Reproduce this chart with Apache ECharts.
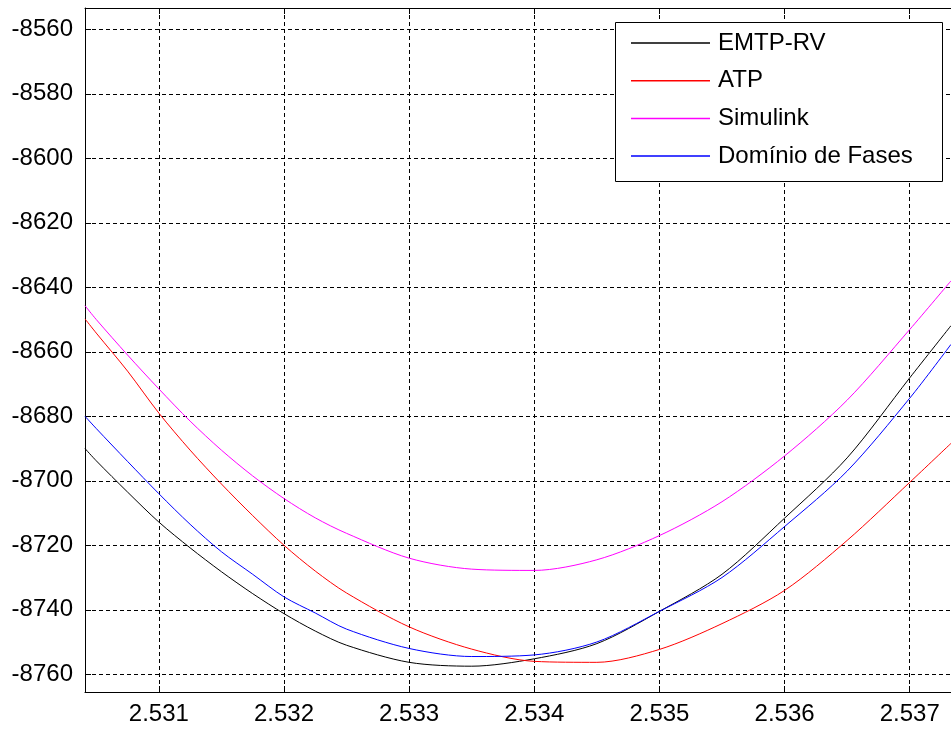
<!DOCTYPE html>
<html><head><meta charset="utf-8">
<script src="https://cdn.jsdelivr.net/npm/echarts@6/dist/echarts.min.js"></script>
<style>html,body{margin:0;padding:0;background:#fff}#c{width:951px;height:733px}</style>
</head><body><div id="c"></div>
<script>
const xValues      = [2.53041, 2.5305, 2.53075, 2.531, 2.53125, 2.5315, 2.53175, 2.532, 2.53225, 2.5325, 2.533, 2.5335, 2.534, 2.5345, 2.535, 2.5355, 2.536, 2.5365, 2.537, 2.53733];
const emtpRV       = [-8690, -8693.8, -8703.5, -8712.8, -8720.8, -8728.2, -8735, -8741.2, -8746.6, -8751, -8756.3, -8757.5, -8755.2, -8750.5, -8740.5, -8729, -8711.6, -8692.9, -8668.1, -8651.9];
const atp          = [-8649.8, -8654.2, -8666, -8679, -8690.5, -8701, -8710.8, -8720, -8728, -8734.8, -8745.3, -8752.2, -8756, -8756.3, -8752.3, -8744.3, -8734, -8718.5, -8700.5, -8688.4];
const simulink     = [-8645.7, -8650, -8661, -8671.5, -8681.5, -8690.5, -8698.5, -8705.5, -8711.5, -8716.3, -8724, -8727.4, -8727.8, -8724.5, -8717, -8706.5, -8692.3, -8675, -8653.1, -8638];
const dominioFases = [-8680, -8683.8, -8694, -8704, -8713.5, -8722, -8729, -8736, -8741, -8746, -8752, -8754.5, -8754, -8750, -8740.5, -8730, -8714.2, -8697, -8674.4, -8657.7];
const seriesNames  = ['EMTP-RV', 'ATP', 'Simulink', 'Domínio de Fases'];
const seriesColors = ['#000000', '#ff0000', '#ff00ff', '#0000ff'];
const xTicks = [2.531, 2.532, 2.533, 2.534, 2.535, 2.536, 2.537];
const yTicks = [-8760, -8740, -8720, -8700, -8680, -8660, -8640, -8620, -8600, -8580, -8560];
const xRange = [2.53041, 2.53733];
const yRange = [-8765.5, -8553.4];

const allSeries = [emtpRV, atp, simulink, dominioFases];
const font = 'Liberation Sans, Arial, sans-serif';
const chart = echarts.init(document.getElementById('c'));
const gridLine = { show: true, lineStyle: { color: '#000', width: 1, type: [4, 3] } };
chart.setOption({
  backgroundColor: '#fff',
  animation: false,
  grid: { left: 85, top: 8, right: 0, bottom: 41, containLabel: false, outerBoundsMode: 'none' },
  xAxis: [{
    type: 'value', min: xRange[0], max: xRange[1], position: 'bottom',
    axisLine: { show: true, onZero: false, lineStyle: { color: '#000', width: 1 } },
    axisTick: { show: true, inside: true, length: 6, customValues: xTicks, lineStyle: { color: '#000' } },
    axisLabel: { show: true, customValues: xTicks, margin: 10, color: '#000', fontSize: 24, fontFamily: font,
      formatter: v => v.toFixed(3) },
    splitLine: gridLine
  }, {
    type: 'value', min: xRange[0], max: xRange[1], position: 'top',
    axisLine: { show: true, onZero: false, lineStyle: { color: '#000', width: 1 } },
    axisTick: { show: true, inside: true, length: 6, customValues: xTicks, lineStyle: { color: '#000' } },
    axisLabel: { show: false },
    splitLine: { show: false }
  }],
  yAxis: [{
    type: 'value', min: yRange[0], max: yRange[1],
    axisLine: { show: true, onZero: false, lineStyle: { color: '#000', width: 1 } },
    axisTick: { show: true, inside: true, length: 6, customValues: yTicks, lineStyle: { color: '#000' } },
    axisLabel: { show: true, customValues: yTicks, margin: 12, color: '#000', fontSize: 24, fontFamily: font,
      formatter: v => String(v) },
    splitLine: gridLine
  }],
  legend: {
    orient: 'vertical', left: 631, top: 28, padding: 0, itemGap: 7.7,
    itemWidth: 79, itemHeight: 1.5, icon: 'rect', z: 20,
    data: seriesNames.map((n, i) => ({ name: n, icon: 'rect', itemStyle: { color: seriesColors[i] } })),
    textStyle: { color: '#000', fontSize: 24, fontFamily: font, lineHeight: 30, padding: [0, 0, 0, 3] }
  },
  graphic: [{
    type: 'rect', left: 615, top: 22, z: 10,
    shape: { width: 327, height: 159 },
    style: { fill: '#fff', stroke: '#000', lineWidth: 1 }
  }],
  series: allSeries.map((arr, i) => ({
    name: seriesNames[i], type: 'line', xAxisIndex: 0, yAxisIndex: 0,
    data: xValues.map((x, j) => [x, arr[j]]),
    symbol: 'none', smooth: 0.3,
    lineStyle: { color: seriesColors[i], width: 1 },
    itemStyle: { color: seriesColors[i] }
  }))
});
</script></body></html>
